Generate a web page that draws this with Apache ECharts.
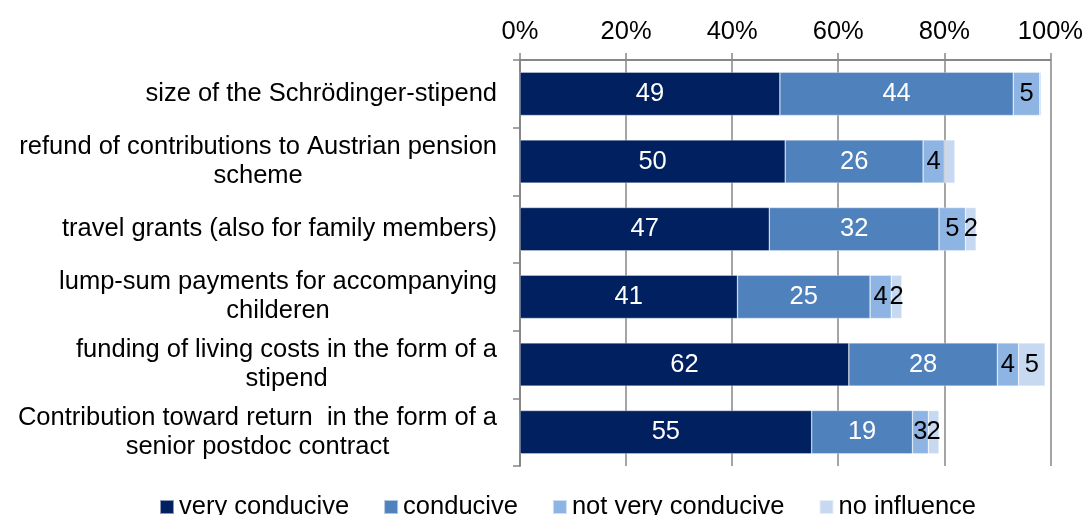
<!DOCTYPE html>
<html>
<head>
<meta charset="utf-8">
<script src="https://cdn.jsdelivr.net/npm/echarts@6/dist/echarts.min.js"></script>
<style>
  html, body { margin: 0; padding: 0; background: #ffffff; }
  #chart { width: 1086px; height: 515px; }
</style>
</head>
<body>
<div id="chart"></div>
<script>
// Measures asked about, top to bottom
const categories = [
  'size of the Schrödinger-stipend',
  'refund of contributions to Austrian pension\nscheme',
  'travel grants (also for family members)',
  'lump-sum payments for accompanying\nchilderen',
  'funding of living costs in the form of a\nstipend',
  'Contribution toward return  in the form of a\nsenior postdoc contract'
];

// Share of answers per measure (%)
const veryConducive    = [49, 50, 47, 41, 62, 55];
const conducive        = [44, 26, 32, 25, 28, 19];
const notVeryConducive = [5, 4, 5, 4, 4, 3];
const noInfluence      = [0.3, 2, 2, 2, 5, 2];

// Cells whose value is not printed on the bar: [seriesIndex, categoryIndex]
const unlabeledCells = [[3, 0], [3, 1]];

const seriesNames = ['very conducive', 'conducive', 'not very conducive', 'no influence'];
const xTicks = [0, 20, 40, 60, 80, 100];

const FONT = "'Liberation Sans', Arial, Helvetica, sans-serif";
const FS = 25.5;
const AXIS_GRAY = '#878787';
const colors = ['#002060', '#4f81bd', '#8db4e2', '#c6d9f1'];
const labelColors = ['#ffffff', '#ffffff', '#000000', '#000000'];

const seriesValues = [veryConducive, conducive, notVeryConducive, noInfluence];

function buildData(si, values) {
  return values.map((v, ci) => {
    const hidden = unlabeledCells.some(c => c[0] === si && c[1] === ci);
    return hidden ? { value: v, label: { show: false } } : v;
  });
}

const chart = echarts.init(document.getElementById('chart'), null, { renderer: 'canvas' });

chart.setOption({
  animation: false,
  backgroundColor: '#ffffff',
  textStyle: { fontFamily: FONT },
  color: colors,
  grid: { left: 520, right: 31, top: 60, bottom: 49, containLabel: false },
  legend: {
    data: seriesNames,
    left: 154,
    top: 489,
    icon: 'rect',
    itemWidth: 14,
    itemHeight: 14,
    itemGap: 34,
    textStyle: { fontFamily: FONT, fontSize: FS, color: '#000000' }
  },
  xAxis: {
    type: 'value',
    position: 'top',
    min: xTicks[0],
    max: xTicks[xTicks.length - 1],
    interval: xTicks[1] - xTicks[0],
    axisLine: { show: true, lineStyle: { color: AXIS_GRAY, width: 2 } },
    axisTick: { show: true, length: 7, lineStyle: { color: AXIS_GRAY, width: 1.5 } },
    splitLine: { show: true, lineStyle: { color: AXIS_GRAY, width: 1.5 } },
    axisLabel: {
      formatter: '{value}%',
      fontFamily: FONT,
      fontSize: FS,
      color: '#000000',
      margin: 15
    }
  },
  yAxis: {
    type: 'category',
    inverse: true,
    data: categories,
    axisLine: { show: true, lineStyle: { color: AXIS_GRAY, width: 2 } },
    axisTick: { show: true, length: 7, lineStyle: { color: AXIS_GRAY, width: 1.5 } },
    splitLine: { show: false },
    axisLabel: {
      interval: 0,
      align: 'right',
      margin: 23,
      color: '#000000',
      fontFamily: FONT,
      fontSize: FS,
      formatter: function (v) {
        return v.split('\n').map(function (l) { return '{c|' + l + '}'; }).join('\n');
      },
      rich: {
        c: { align: 'center', fontFamily: FONT, fontSize: FS, lineHeight: 29, color: '#000000' }
      }
    }
  },
  series: seriesNames.map((name, si) => ({
    name: name,
    type: 'bar',
    stack: 'total',
    barWidth: '64%',
    itemStyle: { color: colors[si], borderColor: 'rgba(255,255,255,0.55)', borderWidth: 0.6 },
    label: {
      show: true,
      position: 'inside',
      color: labelColors[si],
      fontFamily: FONT,
      fontSize: FS,
      formatter: function (p) { return String(p.value); }
    },
    data: buildData(si, seriesValues[si])
  }))
});
</script>
</body>
</html>
